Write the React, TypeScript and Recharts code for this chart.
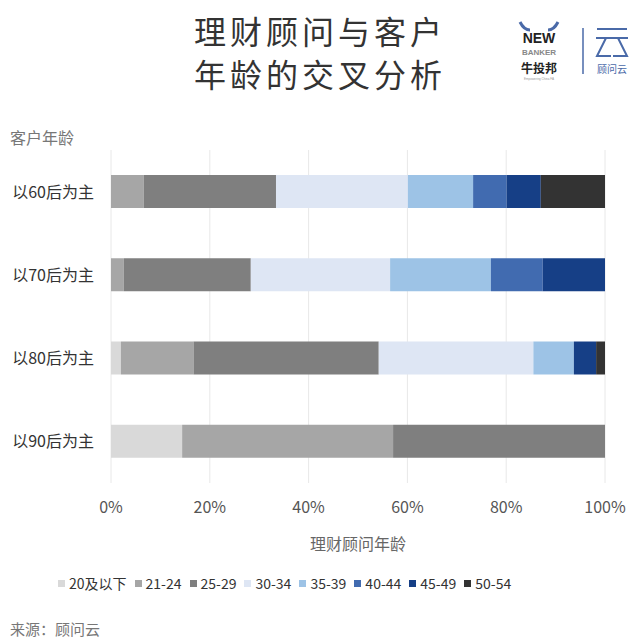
import React from 'react'
import { BarChart, Bar, XAxis, YAxis, CartesianGrid } from 'recharts'

const FONT = '"Noto Sans CJK SC", "Noto Sans", sans-serif'

// client age groups (rows)
const groups = ['以60后为主', '以70后为主', '以80后为主', '以90后为主']

// advisor age brackets (stacked series)
const brackets = ['20及以下', '21-24', '25-29', '30-34', '35-39', '40-44', '45-49', '50-54']
const colors = ['#d9d9d9', '#a6a6a6', '#7f7f7f', '#dee6f4', '#9dc3e6', '#416bb0', '#163f86', '#333333']

// share (%) per bracket, one array per client group
const gen60 = [0, 6.6, 26.8, 26.7, 13.2, 6.8, 6.9, 13.0]
const gen70 = [0, 2.6, 25.7, 28.2, 20.4, 10.5, 12.6, 0]
const gen80 = [2.0, 14.7, 37.5, 31.3, 8.2, 0, 4.5, 1.8]
const gen90 = [14.4, 42.7, 42.9, 0, 0, 0, 0, 0]

const xTicks = [0, 20, 40, 60, 80, 100]

const rows = [gen60, gen70, gen80, gen90]
const data = groups.map((g, i) => {
  const row: any = { group: g }
  brackets.forEach((b, j) => { row[b] = rows[i][j] })
  return row
})

const YTick = (props: any) => {
  const { x, y, payload } = props
  return (
    <text x={x - 9} y={y} dy={6} textAnchor="end" fontSize={16} fill="#333" fontFamily={FONT}>
      {payload.value}
    </text>
  )
}

const XTick = (props: any) => {
  const { x, y, payload } = props
  return (
    <text x={x} y={y} dy={22} textAnchor="middle" fontSize={16} fill="#555" fontFamily={FONT}>
      {payload.value}%
    </text>
  )
}

const Logos = () => (
  <svg width={140} height={90} style={{ position: 'absolute', left: 500, top: 0 }}>
    {/* horns */}
    <path d="M20 22 Q24 30 30 30" stroke="#4a6aa8" strokeWidth={3} fill="none" />
    <path d="M58 22 Q54 30 48 30" stroke="#4a6aa8" strokeWidth={3} fill="none" />
    <text x={39} y={43} textAnchor="middle" fontSize={14} fontWeight={900} fill="#222" fontFamily="Liberation Sans">NEW</text>
    <text x={39} y={55} textAnchor="middle" fontSize={8} fontWeight={700} fill="#888" fontFamily="Liberation Sans">BANKER</text>
    <text x={39} y={73} textAnchor="middle" fontSize={12} fontWeight={700} fill="#222" fontFamily={FONT}>牛投邦</text>
    <text x={39} y={80} textAnchor="middle" fontSize={3} fill="#999" fontFamily="Liberation Sans">Empowering China FA</text>
    <line x1={83} y1={28} x2={83} y2={74} stroke="#4a6aa8" strokeWidth={1.5} />
    <line x1={97} y1={29} x2={127} y2={29} stroke="#4a6aa8" strokeWidth={2} />
    <line x1={96} y1={38} x2={128} y2={38} stroke="#4a6aa8" strokeWidth={2} />
    <path d="M106 38 L97 56 L111 56" stroke="#4a6aa8" strokeWidth={2} fill="none" />
    <path d="M118 38 L127 56 L113 56" stroke="#4a6aa8" strokeWidth={2} fill="none" />
    <text x={112} y={73} textAnchor="middle" fontSize={10} fill="#4a6aa8" fontFamily={FONT}>顾问云</text>
  </svg>
)

const LegendRow = () => (
  <div style={{ position: 'absolute', left: 58, top: 573, display: 'flex', gap: 8, fontSize: 14, color: '#333', whiteSpace: 'nowrap' }}>
    {brackets.map((b, i) => (
      <div key={b} style={{ display: 'flex', alignItems: 'center' }}>
        <span style={{ display: 'inline-block', width: 7, height: 7, background: colors[i], marginRight: 4 }} />
        <span>{b}</span>
      </div>
    ))}
  </div>
)

export default function App() {
  return (
    <div style={{ position: 'absolute', left: 0, top: 0, width: 640, height: 642, background: '#fff', fontFamily: FONT }}>
      <div style={{ position: 'absolute', left: 0, width: 640, top: 9, textAlign: 'center', fontSize: 32, lineHeight: '43px', color: '#333', letterSpacing: 4 }}>
        <div>理财顾问与客户</div>
        <div>年龄的交叉分析</div>
      </div>
      <Logos />
      <div style={{ position: 'absolute', left: 10, top: 125, fontSize: 16, color: '#777' }}>客户年龄</div>
      <div style={{ position: 'absolute', left: 111, width: 494, top: 531, textAlign: 'center', fontSize: 16, color: '#666' }}>理财顾问年龄</div>
      <div style={{ position: 'absolute', left: 10, top: 618, fontSize: 15, color: '#777' }}>来源：顾问云</div>
      <LegendRow />
      <div style={{ position: 'absolute', left: 0, top: 0 }}>
        <BarChart
          width={640}
          height={642}
          data={data}
          layout="vertical"
          barCategoryGap={25}
          margin={{ top: 150, right: 35, bottom: 0, left: 11 }}
        >
          <CartesianGrid horizontal={false} stroke="#e8e8e8" />
          <XAxis
            type="number"
            domain={[0, 100]}
            ticks={xTicks}
            axisLine={false}
            tickLine={false}
            tick={<XTick />}
            height={159}
          />
          <YAxis
            type="category"
            dataKey="group"
            width={100}
            axisLine={false}
            tickLine={false}
            tick={<YTick />}
          />
          {brackets.map((b, i) => (
            <Bar key={b} dataKey={b} stackId="a" fill={colors[i]} isAnimationActive={false} />
          ))}
        </BarChart>
      </div>
    </div>
  )
}
